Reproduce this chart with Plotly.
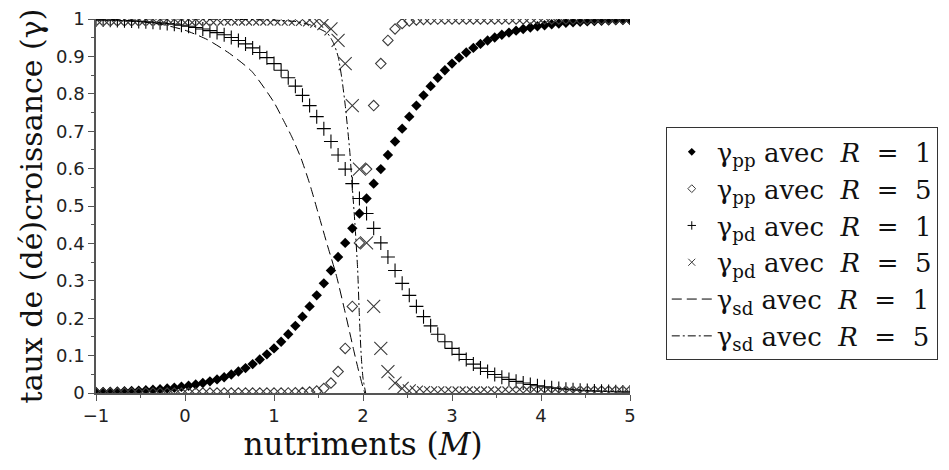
import plotly.graph_objects as go

# x grid of the point series (nutriments M)
m_points = [round(-1 + 0.08 * k, 2) for k in range(76)]

gamma_pp_R1 = [0.0025, 0.0029, 0.0034, 0.0040, 0.0047, 0.0055, 0.0064, 0.0075, 0.0088, 0.0103,
               0.0121, 0.0142, 0.0166, 0.0194, 0.0227, 0.0266, 0.0311, 0.0363, 0.0423, 0.0493,
               0.0573, 0.0666, 0.0773, 0.0895, 0.1034, 0.1192, 0.1371, 0.1571, 0.1795, 0.2042,
               0.2315, 0.2611, 0.2932, 0.3274, 0.3635, 0.4013, 0.4403, 0.4800, 0.5200, 0.5597,
               0.5987, 0.6365, 0.6726, 0.7068, 0.7389, 0.7685, 0.7958, 0.8205, 0.8429, 0.8629,
               0.8808, 0.8966, 0.9105, 0.9227, 0.9334, 0.9427, 0.9507, 0.9577, 0.9637, 0.9689,
               0.9734, 0.9773, 0.9806, 0.9834, 0.9858, 0.9879, 0.9897, 0.9912, 0.9925, 0.9936,
               0.9945, 0.9953, 0.9960, 0.9966, 0.9971, 0.9975]

gamma_pp_R5 = [0.0, 0.0, 0.0, 0.0, 0.0, 0.0, 0.0, 0.0, 0.0, 0.0,
               0.0, 0.0, 0.0, 0.0, 0.0, 0.0, 0.0, 0.0, 0.0, 0.0,
               0.0, 0.0, 0.0, 0.0, 0.0, 0.0, 0.0001, 0.0002, 0.0005, 0.0011,
               0.0025, 0.0055, 0.0121, 0.0266, 0.0573, 0.1192, 0.2315, 0.4013, 0.5987, 0.7685,
               0.8808, 0.9427, 0.9734, 0.9879, 0.9945, 0.9975, 0.9989, 0.9995, 0.9998, 0.9999,
               1.0, 1.0, 1.0, 1.0, 1.0, 1.0, 1.0, 1.0, 1.0, 1.0,
               1.0, 1.0, 1.0, 1.0, 1.0, 1.0, 1.0, 1.0, 1.0, 1.0,
               1.0, 1.0, 1.0, 1.0, 1.0, 1.0]

gamma_pd_R1 = [0.9975, 0.9971, 0.9966, 0.9960, 0.9953, 0.9945, 0.9936, 0.9925, 0.9912, 0.9897,
               0.9879, 0.9858, 0.9834, 0.9806, 0.9773, 0.9734, 0.9689, 0.9637, 0.9577, 0.9507,
               0.9427, 0.9334, 0.9227, 0.9105, 0.8966, 0.8808, 0.8629, 0.8429, 0.8205, 0.7958,
               0.7685, 0.7389, 0.7068, 0.6726, 0.6365, 0.5987, 0.5597, 0.5200, 0.4800, 0.4403,
               0.4013, 0.3635, 0.3274, 0.2932, 0.2611, 0.2315, 0.2042, 0.1795, 0.1571, 0.1371,
               0.1192, 0.1034, 0.0895, 0.0773, 0.0666, 0.0573, 0.0493, 0.0423, 0.0363, 0.0311,
               0.0266, 0.0227, 0.0194, 0.0166, 0.0142, 0.0121, 0.0103, 0.0088, 0.0075, 0.0064,
               0.0055, 0.0047, 0.0040, 0.0034, 0.0029, 0.0025]

gamma_pd_R5 = [1.0, 1.0, 1.0, 1.0, 1.0, 1.0, 1.0, 1.0, 1.0, 1.0,
               1.0, 1.0, 1.0, 1.0, 1.0, 1.0, 1.0, 1.0, 1.0, 1.0,
               1.0, 1.0, 1.0, 1.0, 1.0, 1.0, 0.9999, 0.9998, 0.9995, 0.9989,
               0.9975, 0.9945, 0.9879, 0.9734, 0.9427, 0.8808, 0.7685, 0.5987, 0.4013, 0.2315,
               0.1192, 0.0573, 0.0266, 0.0121, 0.0055, 0.0025, 0.0011, 0.0005, 0.0002, 0.0001,
               0.0, 0.0, 0.0, 0.0, 0.0, 0.0, 0.0, 0.0, 0.0, 0.0,
               0.0, 0.0, 0.0, 0.0, 0.0, 0.0, 0.0, 0.0, 0.0, 0.0,
               0.0, 0.0, 0.0, 0.0, 0.0, 0.0]

# continuous curves gamma_sd
m_sd_R1 = [-1.0, -0.75, -0.5, -0.25, 0.0, 0.25, 0.5, 0.75, 1.0, 1.1, 1.2, 1.3, 1.4, 1.5,
           1.6, 1.7, 1.8, 1.9, 1.95, 2.0, 2.02]
gamma_sd_R1 = [1.0, 0.998, 0.993, 0.985, 0.970, 0.945, 0.908, 0.860, 0.777, 0.732, 0.685, 0.630,
               0.560, 0.478, 0.395, 0.315, 0.215, 0.110, 0.060, 0.015, 0.0]

m_sd_R5 = [-1.0, 0.0, 0.5, 1.0, 1.25, 1.4, 1.5, 1.6, 1.67, 1.72, 1.76, 1.80, 1.85, 1.88,
           1.91, 1.94, 1.96, 1.98, 2.0, 2.03]
gamma_sd_R5 = [1.0, 1.0, 0.999, 0.997, 0.993, 0.985, 0.975, 0.962, 0.935, 0.90, 0.845, 0.77,
               0.65, 0.55, 0.45, 0.33, 0.20, 0.10, 0.04, 0.0]

x_ticks = [-1, 0, 1, 2, 3, 4, 5]
x_ticklabels = ["\u22121", "0", "1", "2", "3", "4", "5"]
y_ticks = [0, 0.1, 0.2, 0.3, 0.4, 0.5, 0.6, 0.7, 0.8, 0.9, 1]
y_ticklabels = ["0", "0.1", "0.2", "0.3", "0.4", "0.5", "0.6", "0.7", "0.8", "0.9", "1"]

NB = "\u00a0"
names = [
    f"γ<sub>pp</sub> avec {NB}<i>R</i>{NB} ={NB} 1",
    f"γ<sub>pp</sub> avec {NB}<i>R</i>{NB} ={NB} 5",
    f"γ<sub>pd</sub> avec {NB}<i>R</i>{NB} ={NB} 1",
    f"γ<sub>pd</sub> avec {NB}<i>R</i>{NB} ={NB} 5",
    f"γ<sub>sd</sub> avec {NB}<i>R</i>{NB} ={NB} 1",
    f"γ<sub>sd</sub> avec {NB}<i>R</i>{NB} ={NB} 5",
]

GRAY = "#3a3a3a"
series_markers = [
    dict(symbol="diamond", size=8, color="black", line=dict(width=0)),
    dict(symbol="diamond-open", size=8, color=GRAY, line=dict(width=1.1)),
    dict(symbol="cross-thin", size=10, color="black", line=dict(width=1.1, color="black")),
    dict(symbol="x-thin", size=13, color=GRAY, line=dict(width=1.1, color=GRAY)),
]
legend_markers = [
    dict(symbol="diamond", size=6, color="black", line=dict(width=0)),
    dict(symbol="diamond-open", size=6, color=GRAY, line=dict(width=1)),
    dict(symbol="cross-thin", size=6, color="black", line=dict(width=1, color="black")),
    dict(symbol="x-thin", size=7, color=GRAY, line=dict(width=1, color=GRAY)),
]
point_series = [gamma_pp_R1, gamma_pp_R5, gamma_pd_R1, gamma_pd_R5]
line_styles = [
    dict(color="black", width=1, dash="10px,5px", shape="spline", smoothing=0.6),
    dict(color="black", width=1, dash="8px,3px,2px,3px", shape="spline", smoothing=0.6),
]

fig = go.Figure()
for i, ys in enumerate(point_series):
    fig.add_trace(go.Scatter(x=m_points, y=ys, mode="markers", marker=series_markers[i],
                             showlegend=False, legendgroup=f"g{i}"))
fig.add_trace(go.Scatter(x=m_sd_R1, y=gamma_sd_R1, mode="lines", line=line_styles[0],
                         showlegend=False, legendgroup="g4"))
fig.add_trace(go.Scatter(x=m_sd_R5, y=gamma_sd_R5, mode="lines", line=line_styles[1],
                         showlegend=False, legendgroup="g5"))

# legend entries (no data of their own)
for i in range(4):
    fig.add_trace(go.Scatter(x=[None], y=[None], mode="markers", marker=legend_markers[i],
                             name=names[i], legendgroup=f"g{i}"))
for j in range(2):
    fig.add_trace(go.Scatter(x=[None], y=[None], mode="lines", line=line_styles[j],
                             name=names[4 + j], legendgroup=f"g{4 + j}"))

axis_common = dict(showline=True, linecolor="#555", linewidth=1.5, ticks="outside", ticklen=6,
                   tickcolor="#555", tickwidth=1.2, showgrid=False, zeroline=False,
                   automargin=False,
                   tickfont=dict(family="DejaVu Sans", size=18, color="#222"))

# the page body adds an 8px offset; the figure is sized to fill the rest of the window
fig.update_layout(
    width=941, height=462,
    margin=dict(l=88, r=317, t=11, b=77),
    paper_bgcolor="white", plot_bgcolor="white",
    xaxis=dict(range=[-1, 5], tickvals=x_ticks, ticktext=x_ticklabels,
               minor=dict(dtick=0.5, ticklen=3, ticks="outside", tickcolor="#555"),
               title=dict(text="nutriments (<i>M</i>)", font=dict(family="DejaVu Serif", size=31, color="#111"),
                          standoff=2),
               **axis_common),
    yaxis=dict(range=[0, 1], tickvals=y_ticks, ticktext=y_ticklabels,
               minor=dict(dtick=0.05, ticklen=3, ticks="outside", tickcolor="#555"),
               title=dict(text="taux de (dé)croissance (γ)", font=dict(family="DejaVu Serif", size=30, color="#111"),
                          standoff=5),
               **axis_common),
    legend=dict(x=1.067, xanchor="left", y=0.71, yanchor="top",
                bordercolor="#333", borderwidth=1, bgcolor="white",
                font=dict(family="DejaVu Serif", size=26, color="#111"),
                tracegroupgap=0, itemwidth=40),
    showlegend=True,
)

fig.write_html("out.html")
